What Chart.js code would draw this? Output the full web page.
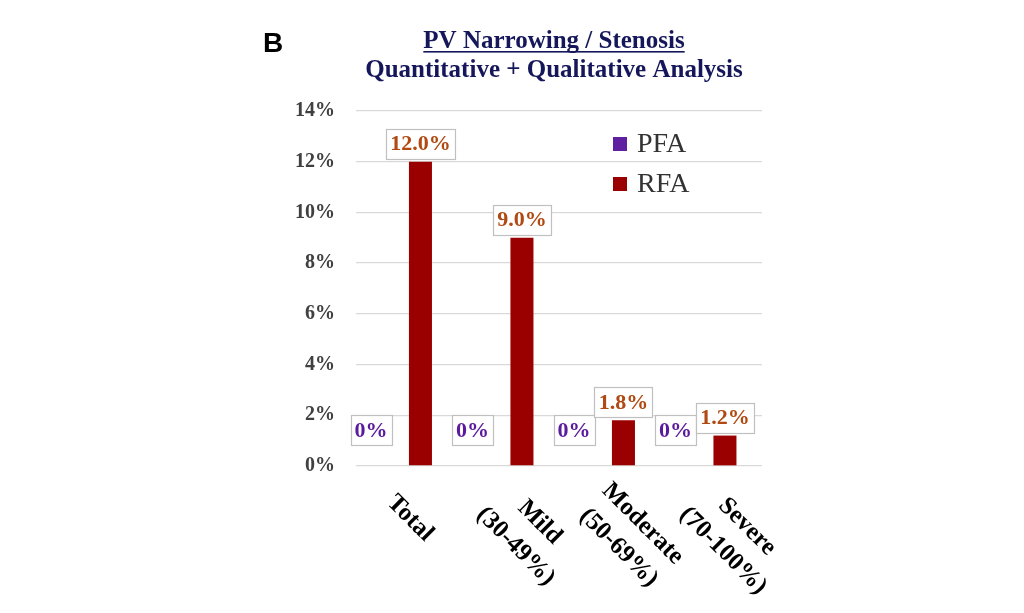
<!DOCTYPE html>
<html>
<head>
<meta charset="utf-8">
<script src="https://cdn.jsdelivr.net/npm/chart.js@4.4.0/dist/chart.umd.min.js"></script>
<style>
  body { margin: 0; background: #fff; }
</style>
</head>
<body>
<canvas id="myChart" width="1024" height="613"></canvas>
<script>
// dados
const categorias = [["Total"], ["Mild", "(30-49%)"], ["Moderate", "(50-69%)"], ["Severe", "(70-100%)"]];
const nomesSeries = ["PFA", "RFA"];
const valoresPFA = [0, 0, 0, 0];
const valoresRFA = [12.0, 9.0, 1.8, 1.2];
const ticksY = [0, 2, 4, 6, 8, 10, 12, 14];

const corPFA = "#5f1fa0";
const corRFA = "#9b0000";
const corRotuloPFA = "#5a1a9e";
const corRotuloRFA = "#b04a12";

function formatar(v) {
  return v === 0 ? "0%" : v.toFixed(1) + "%";
}

// titulo + letra do painel
const pluginTitulo = {
  id: "titulo",
  afterDraw(chart) {
    const ctx = chart.ctx;
    ctx.save();
    ctx.fillStyle = "#000";
    ctx.font = 'bold 28px "Liberation Sans", Arial';
    ctx.textAlign = "left";
    ctx.textBaseline = "alphabetic";
    ctx.fillText("B", 263, 52);

    const cx = 554;
    ctx.fillStyle = "#15175a";
    ctx.font = 'bold 25px "Liberation Serif", "Times New Roman"';
    ctx.textAlign = "center";
    const t1 = "PV Narrowing / Stenosis";
    ctx.fillText(t1, cx, 48);
    const w1 = ctx.measureText(t1).width;
    ctx.fillRect(cx - w1 / 2, 51, w1, 1.6);
    ctx.fillText("Quantitative + Qualitative Analysis", cx, 77);
    ctx.restore();
  },
};

// caixas com os valores
const pluginRotulos = {
  id: "rotulos",
  afterDatasetsDraw(chart) {
    const ctx = chart.ctx;
    const y0 = chart.scales.y.getPixelForValue(0);
    ctx.save();
    ctx.font = 'bold 22px "Liberation Serif", "Times New Roman"';
    ctx.textAlign = "center";
    ctx.textBaseline = "middle";
    chart.data.datasets.forEach((ds, di) => {
      const meta = chart.getDatasetMeta(di);
      meta.data.forEach((bar, i) => {
        const txt = formatar(ds.data[i]);
        const w = Math.round(ctx.measureText(txt).width + 8);
        const h = 30;
        let cx, cy;
        if (di === 0) {
          cx = bar.x - 22;
          cy = y0 - 36;
        } else {
          cx = bar.x;
          cy = bar.y - 18;
        }
        const left = Math.round(cx - w / 2);
        const top = Math.round(cy - h / 2);
        ctx.fillStyle = "#fff";
        ctx.fillRect(left, top, w, h);
        ctx.strokeStyle = "#c0c0c0";
        ctx.lineWidth = 1.2;
        ctx.strokeRect(left + 0.5, top + 0.5, w, h);
        ctx.fillStyle = di === 0 ? corRotuloPFA : corRotuloRFA;
        ctx.fillText(txt, cx, cy + 1);
      });
    });
    ctx.restore();
  },
};

// legenda dentro da area do grafico
const pluginLegenda = {
  id: "legenda",
  afterDraw(chart) {
    const ctx = chart.ctx;
    const area = chart.chartArea;
    ctx.save();
    ctx.font = '28px "Liberation Serif", "Times New Roman"';
    ctx.textAlign = "left";
    ctx.textBaseline = "alphabetic";
    chart.data.datasets.forEach((ds, di) => {
      const x = area.right - 149;
      const y = area.top + 26 + di * 40;
      ctx.fillStyle = ds.backgroundColor;
      ctx.fillRect(x, y, 14, 14);
      ctx.fillStyle = "#333";
      ctx.fillText(ds.label, x + 24, y + 15);
    });
    ctx.restore();
  },
};

// rotulos do eixo x girados 45 graus
const pluginEixoX = {
  id: "eixoX",
  afterDraw(chart) {
    const ctx = chart.ctx;
    const xs = chart.scales.x;
    const y0 = chart.scales.y.getPixelForValue(0);
    const lh = 34;
    ctx.save();
    ctx.fillStyle = "#000";
    ctx.font = 'bold 25px "Liberation Serif", "Times New Roman"';
    ctx.textAlign = "center";
    ctx.textBaseline = "middle";
    categorias.forEach((linhas, i) => {
      const px = xs.getPixelForValue(i);
      const W = Math.max(...linhas.map((l) => ctx.measureText(l).width));
      ctx.save();
      ctx.translate(px - 16, y0 + 33);
      ctx.rotate(Math.PI / 4);
      linhas.forEach((l, k) => {
        ctx.fillText(l, W / 2, (k - (linhas.length - 1) / 2) * lh);
      });
      ctx.restore();
    });
    ctx.restore();
  },
};

const ctx = document.getElementById("myChart");

const chart = new Chart(ctx, {
  type: "bar",
  data: {
    labels: categorias,
    datasets: [
      {
        label: nomesSeries[0],
        data: valoresPFA,
        backgroundColor: corPFA,
        borderWidth: 0,
      },
      {
        label: nomesSeries[1],
        data: valoresRFA,
        backgroundColor: corRFA,
        borderWidth: 0,
      },
    ],
  },
  options: {
    responsive: false,
    animation: false,
    devicePixelRatio: 1,
    layout: {
      padding: { left: 0, right: 262, top: 111, bottom: 147 },
    },
    datasets: {
      bar: {
        categoryPercentage: 0.54,
        barPercentage: 0.84,
      },
    },
    scales: {
      x: {
        grid: { display: false },
        border: { display: false },
        ticks: { display: false },
        afterFit(scale) {
          scale.height = 0;
        },
      },
      y: {
        min: 0,
        max: 14,
        afterFit(scale) {
          scale.width = 356;
        },
        afterBuildTicks(scale) {
          scale.ticks = ticksY.map((v) => ({ value: v }));
        },
        grid: {
          color: "#d9d9d9",
          lineWidth: 1.3,
          drawTicks: false,
        },
        border: { display: false },
        ticks: {
          padding: 21,
          color: "#404040",
          font: { family: '"Liberation Serif", "Times New Roman"', size: 20, weight: "bold" },
          callback: (v) => v + "%",
        },
      },
    },
    plugins: {
      legend: { display: false },
      title: { display: false },
      tooltip: { enabled: false },
    },
  },
  plugins: [pluginTitulo, pluginRotulos, pluginLegenda, pluginEixoX],
});
</script>
</body>
</html>
